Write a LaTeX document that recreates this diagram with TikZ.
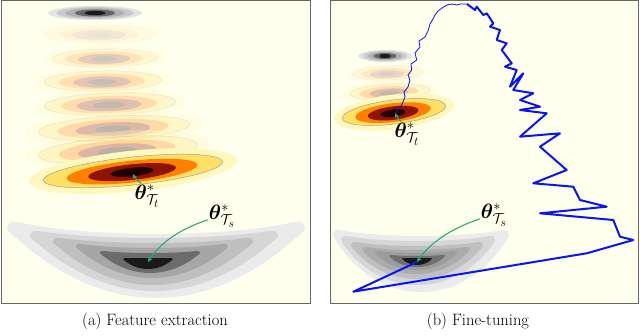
\documentclass[tikz,border=0pt]{standalone}
\usepackage{amsmath}
\usepackage{amssymb}
\usepackage{bm}
\usetikzlibrary{arrows.meta,calc}
\definecolor{bgcream}{RGB}{255,255,238}
\definecolor{thalo}{RGB}{255,248,190}
\definecolor{tyellow}{RGB}{255,224,100}
\definecolor{torange}{RGB}{255,128,0}
\definecolor{tred}{RGB}{140,20,0}
\definecolor{tblack}{RGB}{30,0,0}
\definecolor{tgreen}{RGB}{46,170,110}
\definecolor{pathblue}{RGB}{10,20,245}
% target basin: cx, cy, rx, ry, tilt, opacity
\newcommand{\tbasin}[6]{%
  \begin{scope}[shift={(#1,#2)},rotate=#5,transparency group,opacity=#6]
    \fill[thalo] (0,0) ellipse [x radius=1.16*#3, y radius=1.45*#4];
    \filldraw[tyellow,draw=gray!75,line width=0.5pt] (0,0) ellipse [x radius=#3, y radius=#4];
    \fill[torange] (-1,0.5) ellipse [x radius=0.73*#3, y radius=0.78*#4];
    \fill[tred] (-1,1) ellipse [x radius=0.49*#3, y radius=0.56*#4];
    \fill[tblack] (-1,1) ellipse [x radius=0.24*#3, y radius=0.3*#4];
  \end{scope}}
% grey basin: cx, cy, rx, ry
\newcommand{\gbasin}[4]{%
  \begin{scope}[shift={(#1,#2)}]
    \fill[gray!22] (0,0) ellipse [x radius=#3, y radius=#4];
    \fill[gray!42] (0,0) ellipse [x radius=0.82*#3, y radius=0.84*#4];
    \fill[gray!62] (0,0) ellipse [x radius=0.63*#3, y radius=0.66*#4];
    \fill[gray!80!black] (0,0) ellipse [x radius=0.43*#3, y radius=0.5*#4];
    \fill[black!90] (0,0) ellipse [x radius=0.22*#3, y radius=0.32*#4];
  \end{scope}}
% source bowl layer: cx, top, half width, dip, bottom, roundness, colour
\newcommand{\sbowl}[7]{%
  \fill[#7] ({#1-0.93*#3},#2) .. controls ({#1-0.45*#3},{#2+1.33*#4}) and ({#1+0.45*#3},{#2+1.33*#4}) .. ({#1+0.93*#3},#2)
    .. controls ({#1+0.985*#3},{#2-0.015*(#5-#2)}) and ({#1+1.0*#3},{#2+0.03*(#5-#2)}) .. ({#1+#3},{#2+0.1*(#5-#2)})
    .. controls ({#1+#6*#3},{#2+1.3*(#5-#2)}) and ({#1-#6*#3},{#2+1.3*(#5-#2)}) .. ({#1-#3},{#2+0.1*(#5-#2)})
    .. controls ({#1-1.0*#3},{#2+0.03*(#5-#2)}) and ({#1-0.985*#3},{#2-0.015*(#5-#2)}) .. cycle;}

\begin{document}
\begin{tikzpicture}[x=1pt,y=-1pt,line join=round,
  panel/.style={draw=gray!80!black,line width=0.8pt,fill=bgcream},
  lbl/.style={inner sep=1pt,font=\huge},
  captext/.style={font=\fontsize{16.5}{19}\selectfont},
  garrow/.style={draw=tgreen,line width=1.1pt,-{Stealth[length=5pt,width=4.5pt]}},
  bthin/.style={draw=pathblue,line width=0.8pt},
  bthick/.style={draw=pathblue,line width=2pt}]
  \useasboundingbox (0,0) rectangle (640,335);

  % (a) feature extraction
  \draw[panel] (1,0.5) rectangle (310,303);
  \gbasin{95}{13}{47}{7}
  \tbasin{100}{34}{55}{9}{0}{0.1}
  \tbasin{105}{58}{53}{9}{1}{0.22}
  \tbasin{103}{81}{59}{10}{1}{0.25}
  \tbasin{110}{104}{66}{11}{2}{0.27}
  \tbasin{114}{128}{76}{12}{3}{0.29}
  \tbasin{118}{150}{80}{13}{4}{0.31}
  \tbasin{133}{171}{90}{14}{6}{1}
  \sbowl{156}{222}{149}{12}{298}{0.36}{gray!16}
  \sbowl{154}{231}{124}{7}{291}{0.36}{gray!32}
  \sbowl{153}{238}{100}{5}{285}{0.36}{gray!50}
  \sbowl{152}{244}{76}{4}{278}{0.38}{gray!70}
  \sbowl{150}{251}{50}{2}{273}{0.4}{gray!85!black}
  \sbowl{148}{258}{25}{0}{269}{0.45}{black!90}
  \coordinate (tminA) at (133,174);
  \coordinate (sminA) at (148,262);
  \node[lbl] (ttA) at (147,196) {$\bm{\theta}^*_{\mathcal{T}_t}$};
  \node[lbl] (tsA) at (222,216) {$\bm{\theta}^*_{\mathcal{T}_s}$};
  \draw[garrow] (ttA.115) to[bend left=12] (tminA);
  \draw[garrow] (tsA.195) .. controls (180,229) and (160,243) .. (sminA);

  % (b) fine-tuning
  \draw[panel] (330,0.5) rectangle (638.5,303);
  \gbasin{385}{56}{27}{6}
  \tbasin{388}{73}{35}{7}{2}{0.18}
  \tbasin{390}{92}{40}{8}{3}{0.28}
  \tbasin{394}{112}{52}{12}{7}{1}
  \sbowl{421}{230}{88}{6}{292}{0.5}{gray!16}
  \sbowl{418}{236}{77}{5}{285}{0.5}{gray!32}
  \sbowl{417}{242}{66}{4}{279}{0.5}{gray!50}
  \sbowl{416}{247}{54}{3}{274}{0.5}{gray!66}
  \sbowl{416}{251}{41}{2}{270}{0.5}{gray!78}
  \sbowl{417}{255}{28}{1}{267}{0.5}{gray!88!black}
  \sbowl{417}{258}{15}{0}{265}{0.5}{black!90}
  \coordinate (tminB) at (395,113);
  \coordinate (sminB) at (417,262);
  \coordinate (turn) at (467,4);
  \draw[bthin] (tminB) -- (398,109) -- (401.7,105) -- (405,97) -- (404,92) -- (408,87) -- (410,80)
    -- (408,75) -- (411.7,70) -- (411,64) -- (416.7,60) -- (415,53) -- (420,47) -- (419,41)
    -- (425,37) -- (428,31) -- (430,24) -- (433,19) -- (435,15) -- (438,11) -- (442,8)
    -- (447,5) -- (452,4) -- (457,5) -- (460,4) -- (turn);
  \draw[bthick] (turn) -- (475,10) -- (476.7,6.7) -- (483.3,15) -- (486.7,13.3) -- (493.3,23.3)
    -- (490,26.7) -- (500,30) -- (496.7,40) -- (506.7,43.3) -- (501.7,50) -- (511.7,63.3)
    -- (505,66.7) -- (516.7,70) -- (510,86.7) -- (523.3,73.3) -- (513.3,90) -- (533.3,93.3)
    -- (520,100) -- (540,106.7) -- (520,110) -- (546.7,113.3) -- (520,136.7) -- (560,133.3)
    -- (540,146.7) -- (566.7,170) -- (533.3,183.3) -- (573.3,186.7) -- (580,200) -- (606.7,206.7)
    -- (540,213.3) -- (613.3,220) -- (620,236.7) -- (633.3,240) -- (586.7,253.3) -- (353.3,291.7)
    -- (sminB);
  \node[lbl] (ttB) at (407,134) {$\bm{\theta}^*_{\mathcal{T}_t}$};
  \node[lbl] (tsB) at (494,215) {$\bm{\theta}^*_{\mathcal{T}_s}$};
  \draw[garrow] (ttB.115) to[bend left=10] (tminB);
  \draw[garrow] (tsB.195) .. controls (450,229) and (430,243) .. (sminB);

  \node[captext] (capA) at (155,321) {(a) Feature extraction};
  \node[captext] (capB) at (478,321) {(b) Fine-tuning};
\end{tikzpicture}
\end{document}
